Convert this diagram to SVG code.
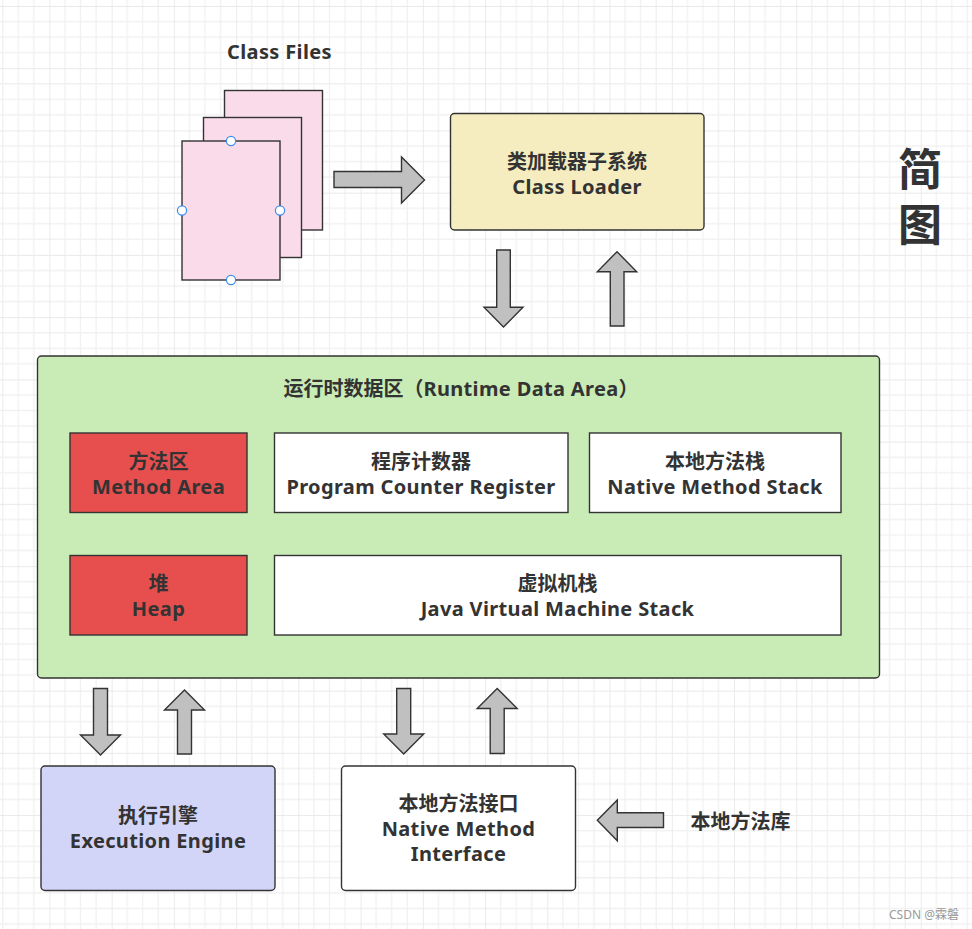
<svg xmlns="http://www.w3.org/2000/svg" width="972" height="929" viewBox="0 0 972 929">
  <defs>
    <pattern id="grid" patternUnits="userSpaceOnUse" x="49.4" y="68.2" width="62.24" height="62.24">
      <path d="M15.56 0V62.24M31.12 0V62.24M46.68 0V62.24M0 15.56H62.24M0 31.12H62.24M0 46.68H62.24" stroke="#f1f1f1" stroke-width="1.3" fill="none"/>
      <path d="M0 0V62.24M0 0H62.24" stroke="#e9e9e9" stroke-width="1.8" fill="none"/>
    </pattern>
  </defs>
  <style>
    .t { font-family: "Noto Sans", "Noto Sans CJK SC", sans-serif; font-weight: bold; font-size: 20px; fill: #333333; text-anchor: middle; }
    .l { letter-spacing: 0.35px; }
    .box { stroke: #333333; stroke-width: 1.4; }
    .arrow { fill: #c0c0c0; stroke: #333333; stroke-width: 1.4; stroke-linejoin: miter; }
    .page { fill: #f9dbea; stroke: #333333; stroke-width: 1.4; }
    .handle { fill: #ffffff; stroke: #3b8df0; stroke-width: 1.2; }
  </style>
  <rect width="972" height="929" fill="#ffffff"/>
  <rect width="972" height="929" fill="url(#grid)"/>

  <g id="class-files">
    <text class="t l" x="279.5" y="59">Class Files</text>
    <rect class="page" x="224.5" y="90.5" width="98" height="139.5"/>
    <rect class="page" x="203.5" y="117.5" width="98" height="140"/>
    <rect class="page" x="182" y="141" width="98" height="139"/>
    <circle class="handle" cx="231" cy="141" r="4.6"/>
    <circle class="handle" cx="182" cy="210.5" r="4.6"/>
    <circle class="handle" cx="280" cy="210.5" r="4.6"/>
    <circle class="handle" cx="231" cy="280" r="4.6"/>
  </g>

  <g id="class-loader">
    <rect class="box" x="450.5" y="113.5" width="253.5" height="116.5" rx="4" fill="#f5ecbf"/>
    <text class="t" x="577" y="168.5">类加载器子系统<tspan class="l" x="577" dy="25">Class Loader</tspan></text>
  </g>

  <g id="title">
    <text class="t" x="920" y="185.5" style="font-size:44px">简<tspan x="920" dy="55">图</tspan></text>
  </g>

  <g id="runtime-data-area">
    <rect class="box" x="37.5" y="356" width="842" height="322" rx="4" fill="#c9ebb5"/>
    <text class="t" x="461" y="396">运行时数据区（<tspan class="l">Runtime Data Area</tspan>）</text>
  </g>

  <g id="method-area">
    <rect class="box" x="70" y="433" width="177" height="79.5" fill="#e74f4e"/>
    <text class="t" x="158.5" y="468.5">方法区<tspan class="l" x="158.5" dy="25">Method Area</tspan></text>
  </g>

  <g id="pc-register">
    <rect class="box" x="274.5" y="433" width="293.5" height="79.5" fill="#ffffff"/>
    <text class="t" x="421" y="468.5">程序计数器<tspan class="l" x="421" dy="25">Program Counter Register</tspan></text>
  </g>

  <g id="native-method-stack">
    <rect class="box" x="589.5" y="433" width="251.5" height="79.5" fill="#ffffff"/>
    <text class="t" x="715" y="468.5">本地方法栈<tspan class="l" x="715" dy="25">Native Method Stack</tspan></text>
  </g>

  <g id="heap">
    <rect class="box" x="70" y="555.5" width="177" height="79.5" fill="#e74f4e"/>
    <text class="t" x="158.5" y="590.5">堆<tspan class="l" x="158.5" dy="25">Heap</tspan></text>
  </g>

  <g id="jvm-stack">
    <rect class="box" x="274.5" y="555.5" width="566.5" height="79.5" fill="#ffffff"/>
    <text class="t" x="557.5" y="590.5">虚拟机栈<tspan class="l" x="557.5" dy="25">Java Virtual Machine Stack</tspan></text>
  </g>

  <g id="execution-engine">
    <rect class="box" x="41" y="766" width="234" height="124.5" rx="4" fill="#d3d5f8"/>
    <text class="t" x="158" y="823">执行引擎<tspan class="l" x="158" dy="25">Execution Engine</tspan></text>
  </g>

  <g id="native-method-interface">
    <rect class="box" x="341.5" y="766" width="234" height="124.5" rx="4" fill="#ffffff"/>
    <text class="t" x="458.5" y="811">本地方法接口<tspan class="l" x="458.5" dy="25">Native Method</tspan><tspan class="l" x="458.5" dy="25">Interface</tspan></text>
  </g>

  <g id="native-library">
    <text class="t" x="690.5" y="829" style="text-anchor:start">本地方法库</text>
  </g>

  <g id="connectors">
    <polygon class="arrow" points="334,171.5 401.5,171.5 401.5,157 424.5,180 401.5,203 401.5,187.5 334,187.5"/>
    <polygon class="arrow" points="496.7,250 510.3,250 510.3,307.3 523,307.3 503.5,327 484,307.3 496.7,307.3"/>
    <polygon class="arrow" points="610.3,326 624,326 624,271.7 636.7,271.7 617,251.7 597.3,271.7 610.3,271.7"/>
    <polygon class="arrow" points="93.5,688.5 107.5,688.5 107.5,735 120.5,735 100.5,755 80.5,735 93.5,735"/>
    <polygon class="arrow" points="177.5,754 191.5,754 191.5,710 204.5,710 184.5,690 164.5,710 177.5,710"/>
    <polygon class="arrow" points="396.7,688.5 410.7,688.5 410.7,734 423.7,734 403.7,754 383.7,734 396.7,734"/>
    <polygon class="arrow" points="490.2,753.5 504.2,753.5 504.2,708.5 517.2,708.5 497.2,688.5 477.2,708.5 490.2,708.5"/>
    <polygon class="arrow" points="663.5,812.7 617.3,812.7 617.3,800 597.3,820.3 617.3,840.7 617.3,827.5 663.5,827.5"/>
  </g>

  <g id="watermark">
    <text x="889" y="918.5" style="font-family:'Noto Sans','Noto Sans CJK SC',sans-serif;font-size:12px;fill:#9a9a9a">CSDN @霖磐</text>
  </g>
</svg>
